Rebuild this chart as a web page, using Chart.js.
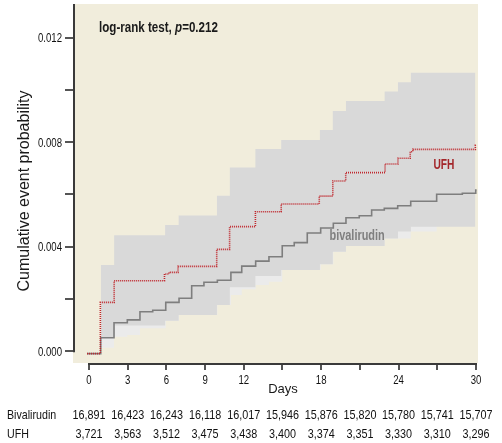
<!DOCTYPE html>
<html>
<head>
<meta charset="utf-8">
<script src="https://cdn.jsdelivr.net/npm/chart.js@4.4.1/dist/chart.umd.min.js"></script>
<style>
  html, body { margin: 0; padding: 0; background: #fff; }
  canvas { display: block; }
</style>
</head>
<body>
<canvas id="kmChart" width="502" height="443"></canvas>
<script>
// Kaplan-Meier steps: day of the step, cumulative event probability from that day
const ufhDays = [-0.15, 0.88, 1.95, 5.85, 6.2, 6.9, 9.9, 10.9, 12.9, 14.9, 17.85, 18.9, 19.9, 22.95, 23.95, 24.9, 25.1, 29.95, 30.0];
const ufhRisk = [-0.0001, 0.00186, 0.00269, 0.00295, 0.00301, 0.00324, 0.00389, 0.00476, 0.00533, 0.00563, 0.00593, 0.00651, 0.00683, 0.00716, 0.00738, 0.00763, 0.00772, 0.00787, 0.00787];

const bivDays = [-0.15, 0.91, 1.94, 2.97, 3.95, 4.94, 5.95, 6.98, 7.96, 8.91, 9.95, 11.0, 11.84, 12.92, 13.95, 14.98, 15.91, 16.92, 17.96, 18.94, 19.92, 20.95, 21.91, 22.89, 23.93, 24.94, 26.95, 28.94, 29.98, 30.05];
const bivRisk = [-0.0001, 0.00051, 0.00108, 0.00119, 0.0015, 0.00156, 0.00186, 0.00202, 0.0025, 0.00263, 0.00271, 0.00301, 0.00325, 0.00344, 0.00361, 0.00403, 0.00415, 0.00452, 0.00471, 0.00489, 0.0051, 0.00518, 0.0054, 0.00546, 0.00556, 0.00573, 0.006, 0.00604, 0.00616, 0.00616];

// 95% confidence bands
const ufhBandDays = [0.91, 1.95, 5.9, 6.95, 9.92, 10.92, 12.9, 14.9, 17.9, 18.9, 19.92, 22.92, 23.95, 24.95, 29.95];
const ufhUpper = [0.00329, 0.00443, 0.00482, 0.00519, 0.00594, 0.00702, 0.00773, 0.00808, 0.00846, 0.00919, 0.00957, 0.00993, 0.01029, 0.01065, 0.01065];
const ufhLower = [0.0005, 0.00098, 0.00116, 0.00138, 0.00176, 0.00244, 0.00287, 0.0031, 0.00332, 0.0038, 0.00402, 0.00431, 0.00457, 0.00476, 0.00476];

const bivBandDays = [0.91, 1.94, 2.97, 3.95, 4.94, 5.95, 6.98, 7.96, 8.91, 9.95, 11.0, 11.84, 12.92, 13.95, 14.98, 15.91, 16.92, 17.96, 18.94, 19.92, 20.95, 21.91, 22.89, 23.93, 24.94, 26.95, 28.94, 29.95];
const bivUpper = [0.0011, 0.0017, 0.0018, 0.0021, 0.0022, 0.0025, 0.0027, 0.0032, 0.0033, 0.0034, 0.0037, 0.004, 0.0042, 0.0044, 0.0048, 0.0049, 0.0053, 0.0055, 0.0057, 0.0059, 0.006, 0.0062, 0.0063, 0.0064, 0.0066, 0.0069, 0.0069, 0.007];
const bivLower = [0.00012, 0.00055, 0.00061, 0.00087, 0.00087, 0.00116, 0.00138, 0.00138, 0.00138, 0.00176, 0.00214, 0.00236, 0.00253, 0.00265, 0.0031, 0.0031, 0.0031, 0.00332, 0.0038, 0.00402, 0.00402, 0.00402, 0.00431, 0.00431, 0.00457, 0.00484, 0.00484, 0.00484];

// axes
const xTicks = [0, 3, 6, 9, 12, 15, 18, 21, 24, 27, 30];
const xTickLabels = ['0', '3', '6', '9', '12', '', '18', '', '24', '', '30'];
const yTicks = [0, 0.002, 0.004, 0.006, 0.008, 0.010, 0.012];
const yTickLabels = ['0.000', '', '0.004', '', '0.008', '', '0.012'];

// numbers at risk
const atRiskDays = [0, 3, 6, 9, 12, 15, 18, 21, 24, 27, 30];
const bivAtRisk = ['16,891', '16,423', '16,243', '16,118', '16,017', '15,946', '15,876', '15,820', '15,780', '15,741', '15,707'];
const ufhAtRisk = ['3,721', '3,563', '3,512', '3,475', '3,438', '3,400', '3,374', '3,351', '3,330', '3,310', '3,296'];

const SANS = "'Liberation Sans', Arial, sans-serif";
const NARROW = 0.8; // horizontal squeeze to imitate a condensed face

const toPoints = (xs, ys) => xs.map((x, i) => ({ x: x, y: ys[i] }));

// text squeezed horizontally around its anchor
function squeezedText(ctx, text, x, y, font, align, sx) {
    ctx.save();
    ctx.font = font;
    ctx.textAlign = align;
    ctx.translate(x, y);
    ctx.scale(sx, 1);
    ctx.fillText(text, 0, 0);
    const w = ctx.measureText(text).width * sx;
    ctx.restore();
    return w;
}

// beige plot background
const backgroundPlugin = {
    id: 'plotBackground',
    beforeDraw(chart) {
        const { ctx, chartArea: a } = chart;
        ctx.save();
        ctx.fillStyle = '#f1eddc';
        ctx.fillRect(a.left, a.top, a.right - a.left, a.bottom - a.top);
        ctx.restore();
    }
};

// axis lines, labels, at-risk table
const decorPlugin = {
    id: 'decor',
    afterDraw(chart) {
        const { ctx, scales: { x, y }, chartArea: a } = chart;
        ctx.save();

        // axis lines
        ctx.strokeStyle = '#3a3a3a';
        ctx.lineWidth = 2;
        ctx.beginPath();
        ctx.moveTo(a.left + 1, a.top);
        ctx.lineTo(a.left + 1, y.getPixelForValue(-0.00005));
        ctx.stroke();
        ctx.beginPath();
        ctx.moveTo(x.getPixelForValue(0) - 1, a.bottom + 1);
        ctx.lineTo(x.getPixelForValue(30) + 1, a.bottom + 1);
        ctx.stroke();

        ctx.fillStyle = '#111';
        ctx.textBaseline = 'alphabetic';

        // tick labels
        y.ticks.forEach((t, i) => {
            if (!yTickLabels[i]) return;
            const py = y.getPixelForValue(t.value);
            squeezedText(ctx, yTickLabels[i], 62, py + 4.5, '12px ' + SANS, 'right', NARROW);
        });
        x.ticks.forEach((t, i) => {
            if (!xTickLabels[i]) return;
            const px = x.getPixelForValue(t.value);
            squeezedText(ctx, xTickLabels[i], px, 384, '12px ' + SANS, 'center', NARROW);
        });

        // y title
        ctx.fillStyle = '#1a1a1a';
        ctx.font = '16px ' + SANS;
        ctx.textAlign = 'center';
        ctx.save();
        ctx.translate(29, 191);
        ctx.rotate(-Math.PI / 2);
        ctx.fillText('Cumulative event probability', 0, 0);
        ctx.restore();

        // x title
        ctx.font = '13px ' + SANS;
        ctx.fillText('Days', 283, 393);

        // log-rank annotation
        let tx = 99;
        tx += squeezedText(ctx, 'log-rank test, ', tx, 32, 'bold 14.5px ' + SANS, 'left', NARROW);
        tx += squeezedText(ctx, 'p', tx, 32, 'italic bold 14.5px ' + SANS, 'left', NARROW);
        squeezedText(ctx, '=0.212', tx, 32, 'bold 14.5px ' + SANS, 'left', NARROW);

        // series labels
        ctx.fillStyle = '#a3262a';
        squeezedText(ctx, 'UFH', 433.5, 169, 'bold 15px ' + SANS, 'left', 0.68);
        ctx.fillStyle = '#7f7f7f';
        squeezedText(ctx, 'bivalirudin', 329.5, 239.5, 'bold 14px ' + SANS, 'left', 0.78);

        // numbers at risk
        ctx.fillStyle = '#111';
        const rowFont = '13.5px ' + SANS;
        squeezedText(ctx, 'Bivalirudin', 7, 419, rowFont, 'left', 0.79);
        squeezedText(ctx, 'UFH', 7, 438, rowFont, 'left', 0.79);
        atRiskDays.forEach((d, i) => {
            const px = x.getPixelForValue(d);
            squeezedText(ctx, bivAtRisk[i], px, 419, rowFont, 'center', NARROW);
            squeezedText(ctx, ufhAtRisk[i], px, 438, rowFont, 'center', NARROW);
        });

        ctx.restore();
    }
};

const ctx = document.getElementById('kmChart').getContext('2d');

new Chart(ctx, {
    type: 'line',
    data: {
        datasets: [
            {
                label: 'UFH',
                data: toPoints(ufhDays, ufhRisk),
                borderColor: '#c0272d',
                borderWidth: 1.6,
                borderDash: [1, 1],
                stepped: true,
                pointRadius: 0,
                fill: false
            },
            {
                label: 'bivalirudin',
                data: toPoints(bivDays, bivRisk),
                borderColor: '#7e7e7e',
                borderWidth: 1.6,
                stepped: true,
                pointRadius: 0,
                fill: false
            },
            {
                label: 'UFH upper',
                data: toPoints(ufhBandDays, ufhUpper),
                borderColor: 'rgba(0,0,0,0)',
                backgroundColor: '#d9d9d9',
                borderWidth: 0,
                stepped: true,
                pointRadius: 0,
                fill: '+1'
            },
            {
                label: 'UFH lower',
                data: toPoints(ufhBandDays, ufhLower),
                borderColor: 'rgba(0,0,0,0)',
                borderWidth: 0,
                stepped: true,
                pointRadius: 0,
                fill: false
            },
            {
                label: 'bivalirudin upper',
                data: toPoints(bivBandDays, bivUpper),
                borderColor: 'rgba(0,0,0,0)',
                backgroundColor: '#ebebeb',
                borderWidth: 0,
                stepped: true,
                pointRadius: 0,
                fill: '+1'
            },
            {
                label: 'bivalirudin lower',
                data: toPoints(bivBandDays, bivLower),
                borderColor: 'rgba(0,0,0,0)',
                borderWidth: 0,
                stepped: true,
                pointRadius: 0,
                fill: false
            }
        ]
    },
    options: {
        responsive: false,
        animation: false,
        devicePixelRatio: 1,
        layout: { padding: { left: 0, right: 24, top: 4, bottom: 0 } },
        plugins: {
            legend: { display: false },
            tooltip: { enabled: false }
        },
        scales: {
            x: {
                type: 'linear',
                min: -1.24,
                max: 30.155,
                afterBuildTicks: s => { s.ticks = xTicks.map(v => ({ value: v })); },
                afterFit: s => { s.height = 80; },
                border: { display: false },
                grid: {
                    drawOnChartArea: false,
                    drawTicks: true,
                    tickLength: 7,
                    color: '#555',
                    lineWidth: 2
                },
                ticks: { display: false }
            },
            y: {
                min: -0.000459,
                max: 0.013283,
                afterBuildTicks: s => { s.ticks = yTicks.map(v => ({ value: v })); },
                afterFit: s => { s.width = 73; },
                border: { display: false },
                grid: {
                    drawOnChartArea: false,
                    drawTicks: true,
                    tickLength: 8,
                    color: '#555',
                    lineWidth: 2
                },
                ticks: { display: false }
            }
        }
    },
    plugins: [backgroundPlugin, decorPlugin]
});
</script>
</body>
</html>
